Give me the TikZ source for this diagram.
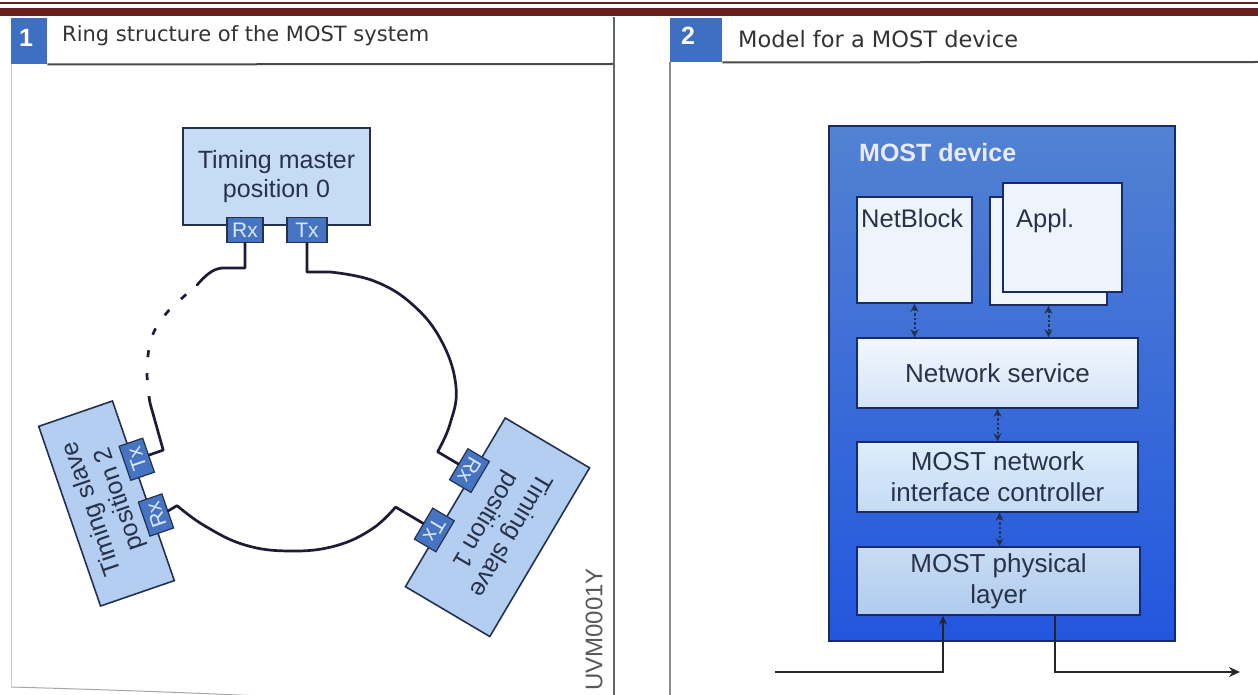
\documentclass[tikz,border=0pt]{standalone}
\usepackage{fontspec}
\setmainfont{Liberation Sans}
\newfontfamily\titlefont{DejaVu Sans}
\usetikzlibrary{arrows.meta,calc}
\definecolor{barred}{HTML}{6B1E1E}
\definecolor{hdrblue}{HTML}{3E6FC2}
\definecolor{hdrline}{HTML}{4A4A4A}
\definecolor{titlegray}{HTML}{333333}
\definecolor{boxlight}{HTML}{C6DBF5}
\definecolor{slavefill}{HTML}{B3CEF1}
\definecolor{navy}{HTML}{25324F}
\definecolor{portfill}{HTML}{4674C2}
\definecolor{porttext}{HTML}{DDE8FF}
\definecolor{txtdark}{HTML}{28324A}
\definecolor{ringc}{HTML}{1C1C36}
\definecolor{devtop}{HTML}{5282D2}
\definecolor{devbot}{HTML}{2356DE}
\definecolor{devborder}{HTML}{1A2A66}
\definecolor{inwhite}{HTML}{EEF4FC}
\definecolor{nstop}{HTML}{F2F7FD}
\definecolor{nsbot}{HTML}{D3E4F8}
\definecolor{nictop}{HTML}{DDEDFB}
\definecolor{nicbot}{HTML}{C4DBF5}
\definecolor{phytop}{HTML}{C9DCF4}
\definecolor{phybot}{HTML}{B0CBEE}
\begin{document}
\begin{tikzpicture}[x=1pt,y=-1pt,
  unitbox/.style={draw=navy, line width=1.6pt, fill=boxlight, text=txtdark,
    font=\fontsize{25}{29}\selectfont, align=center, inner sep=0pt},
  port/.style={draw=navy, line width=1.2pt, fill=portfill, text=porttext,
    font=\fontsize{21}{21}\selectfont, minimum width=36pt, minimum height=25pt, inner sep=0pt},
  ring/.style={line width=2.7pt, draw=ringc, line cap=round, line join=round},
  inbox/.style={draw=devborder, line width=1.5pt, inner sep=0pt, text=txtdark,
    font=\fontsize{26}{31}\selectfont, align=center},
  dblarrow/.style={draw=navy, line width=2pt, dash pattern=on 2.5pt off 2pt,
    {Stealth[length=8pt,width=8pt]}-{Stealth[length=8pt,width=8pt]}},
  feed/.style={draw=black!85, line width=2pt},
  hdrnum/.style={text=white, font=\bfseries\fontsize{25}{25}\selectfont, inner sep=0pt},
  hdrtitle/.style={text=titlegray, inner sep=0pt, anchor=west}]
\useasboundingbox (0,0) rectangle (1258,695);
\fill[white] (0,0) rectangle (1258,695);

% top bars
\fill[barred] (0,2.5) rectangle (1258,4.5);
\fill[barred] (0,8) rectangle (1258,16);

% ---------- panel 1 header ----------
\node[fill=hdrblue, minimum width=36pt, minimum height=46pt, inner sep=0pt, anchor=north west] (h1) at (11,18) {};
\node[hdrnum] (h1n) at (26,38) {1};
\node[hdrtitle, font=\titlefont\fontsize{21}{21}\selectfont] (t1) at (62,36) {Ring structure of the MOST system};
\draw[hdrline, line width=2pt] (h1.south east) -- (614,64);
\draw[black!60, line width=1.6pt] (614,17) -- (614,695);
\draw[black!20, line width=1pt] (11,64) -- (11,686);
\draw[black!35, line width=1pt] (11,687) .. controls (80,689) and (180,692) .. (280,697);

% ---------- timing master ----------
\node[unitbox, minimum width=187pt, minimum height=97pt] (master) at (276.5,176.5) {Timing master\\position 0};
\node[port] (mRx) at (245,230) {Rx};
\node[port, minimum width=40pt] (mTx) at (307,230) {Tx};

% ---------- timing slave 2 ----------
\begin{scope}[shift={(106.5,503.5)}, rotate=109, transform shape]
  \node[unitbox, fill=slavefill, minimum width=190pt, minimum height=78pt] (s2) at (0,0) {Timing slave\\position 2};
  \node[port] (s2tx) at (32,43) {Tx};
  \node[port] (s2rx) at (-27,43) {Rx};
  \coordinate (s2txc) at (32,71);
  \coordinate (s2rxc) at (-25,66);
\end{scope}

% ---------- timing slave 1 ----------
\begin{scope}[shift={(497.5,527.25)}, rotate=-120.6, transform shape]
  \node[unitbox, fill=slavefill, minimum width=196pt, minimum height=98pt] (s1) at (0,0) {Timing slave\\position 1};
  \node[port] (s1rx) at (-34.5,53) {Rx};
  \node[port] (s1tx) at (34.5,53) {Tx};
  \coordinate (s1rxc) at (-34.5,90);
  \coordinate (s1txc) at (34.5,98);
\end{scope}

% ---------- ring ----------
\coordinate (rtop) at (330,272);
\draw[ring] (mTx.south) |- (rtop) -- plot[smooth, tension=0.7] coordinates
  {(rtop) (374,281) (413,305) (442,342) (456,387) (450,424) (s1rxc)} -- (s1rx.south);
\draw[ring] (s1tx.south) -- (s1txc) -- plot[smooth, tension=0.7] coordinates
  {(s1txc) (372,529) (335,546) (290,551) (245,545) (205,526) (s2rxc)} -- (s2rx.south);
\coordinate (lsolid) at (150,403);
\coordinate (ldash) at (197,285);
\draw[ring] (s2tx.south) -- (s2txc) -- (lsolid);
\draw[ring, line cap=butt, dash pattern=on 7pt off 16pt] plot[smooth, tension=0.7] coordinates
  {(lsolid) (147,370) (152,337) (165,315) (180,300) (ldash)};
\draw[ring] (ldash) .. controls (205,276) and (212,269) .. (222,268) -| (mRx.south);

% code
\node[rotate=90, anchor=east, inner sep=0pt, text=black!65, font=\fontsize{24}{24}\selectfont] (code) at (594,568) {UVM0001Y};

% ---------- panel 2 header ----------
\node[fill=hdrblue, minimum width=52pt, minimum height=44pt, inner sep=0pt, anchor=north west] (h2) at (670,18) {};
\node[hdrnum] (h2n) at (688,36) {2};
\node[hdrtitle, font=\titlefont\fontsize{22.5}{22.5}\selectfont] (t2) at (738,39) {Model for a MOST device};
\draw[hdrline, line width=2pt] (h2.south east) -- (1258,62);
\draw[black!45, line width=1.2pt] (h2.south west) -- (670,695);

% ---------- MOST device ----------
\node[draw=devborder, line width=1.5pt, top color=devtop, bottom color=devbot,
  minimum width=346pt, minimum height=515pt, inner sep=0pt] (dev) at (1002,383.5) {};
\node[anchor=base west, inner sep=0pt, text=white!92!blue, font=\bfseries\fontsize{25}{25}\selectfont] (devl) at (859,162) {MOST device};

\node[inbox, fill=inwhite, minimum width=115pt, minimum height=106pt] (nb) at (914.5,250) {};
\node[anchor=base west, inner sep=0pt, text=txtdark, font=\fontsize{25.5}{25.5}\selectfont] (nbt) at (861,228) {NetBlock};

\node[inbox, fill=inwhite!80!white, minimum width=117pt, minimum height=108pt] (apb) at (1048.5,251) {};
\node[inbox, fill=inwhite, minimum width=119pt, minimum height=109pt] (apf) at (1062.5,237.5) {};
\node[anchor=base west, inner sep=0pt, text=txtdark, font=\fontsize{25.5}{25.5}\selectfont] (apt) at (1016,228) {Appl.};

\node[inbox, top color=nstop, bottom color=nsbot, minimum width=281pt, minimum height=70pt] (ns) at (997.5,373) {Network service};
\node[inbox, top color=nictop, bottom color=nicbot, minimum width=281pt, minimum height=70pt] (nic) at (997.5,477) {MOST network\\interface controller};
\node[inbox, top color=phytop, bottom color=phybot, minimum width=283pt, minimum height=68pt] (phy) at (998.5,581) {MOST physical\\layer};

\draw[dblarrow] (nb.south) -- (nb.south |- ns.north);
\draw[dblarrow] (apb.south) -- (apb.south |- ns.north);
\draw[dblarrow] (ns.south) -- (nic.north);
\draw[dblarrow] ([xshift=2pt]nic.south) -- ([xshift=1pt]phy.north);

% feed lines
\coordinate (inS) at (775,672);
\coordinate (inC) at (943,672);
\coordinate (outC) at (1055,672);
\coordinate (outE) at (1240,672);
\draw[feed, -{Stealth[length=9pt,width=8pt]}] (inS) -- (inC) -- (inC |- phy.south);
\draw[feed, -{Stealth[length=11pt,width=10pt]}] (outC |- phy.south) -- (outC) -- (outE);
\end{tikzpicture}
\end{document}
